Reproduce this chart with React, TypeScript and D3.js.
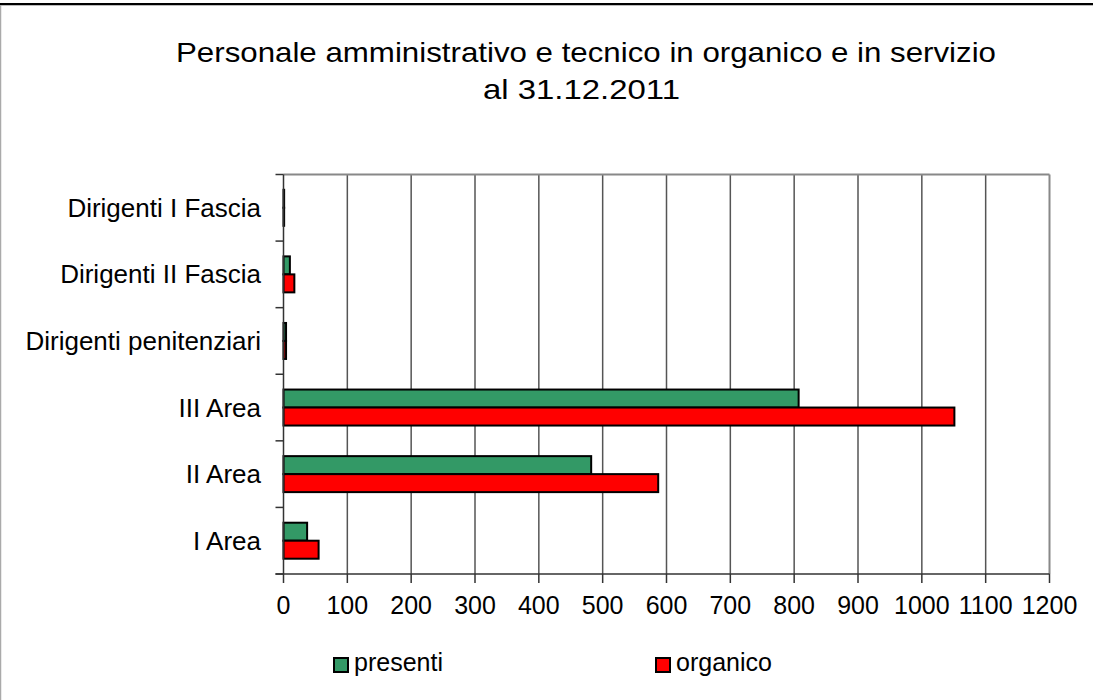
import React from "react";
import * as d3 from "d3";

const categories = [
  "Dirigenti I Fascia",
  "Dirigenti II Fascia",
  "Dirigenti penitenziari",
  "III Area",
  "II Area",
  "I Area",
];
const seriesNames = ["presenti", "organico"];
const presenti = [1, 10, 4, 807, 482, 37];
const organico = [1, 17, 4, 1051, 587, 55];
const seriesColors = ["#339966", "#FF0000"];
const xTicks = [0, 100, 200, 300, 400, 500, 600, 700, 800, 900, 1000, 1100, 1200];
const titleLines = [
  "Personale amministrativo e tecnico in organico e in servizio",
  "al 31.12.2011",
];

export default function App() {
  const W = 1093;
  const H = 700;
  const left = 283.5;
  const right = 1049.5;
  const top = 174.5;
  const bottom = 574;
  const x = d3.scaleLinear().domain([0, 1200]).range([left, right]);
  const y = d3.scaleBand().domain(categories).range([top, bottom]).padding(0);
  const sub = d3
    .scaleBand()
    .domain(seriesNames)
    .range([0, y.bandwidth()])
    .paddingInner(0)
    .paddingOuter(0.85);
  const values = [presenti, organico];
  const font = "'Liberation Sans', Arial, sans-serif";
  const boundaries = categories.map((c) => y(c)!).concat([bottom]);

  return (
    <svg
      width={W}
      height={H}
      style={{ position: "absolute", left: 0, top: 0, background: "#fff" }}
      fontFamily={font}
    >
      <rect x={0} y={0} width={W} height={H} fill="#fff" />
      {/* frame */}
      <line x1={0} x2={W} y1={4} y2={4} stroke="#000" strokeWidth={2} />
      <line x1={0} x2={W} y1={5.5} y2={5.5} stroke="#bbb" strokeWidth={1} />
      <line x1={0.5} x2={0.5} y1={5} y2={H} stroke="#aaa" strokeWidth={1.5} />

      {/* title */}
      <text
        x={176}
        y={62}
        fontSize={28}
        fill="#000"
        textLength={820}
        lengthAdjust="spacingAndGlyphs"
      >
        {titleLines[0]}
      </text>
      <text
        x={483}
        y={99}
        fontSize={28}
        fill="#000"
        textLength={197}
        lengthAdjust="spacingAndGlyphs"
      >
        {titleLines[1]}
      </text>

      {/* gridlines */}
      {xTicks.slice(1, -1).map((t) => (
        <line key={t} x1={x(t)} x2={x(t)} y1={top} y2={bottom} stroke="#555" strokeWidth={1.5} />
      ))}
      {/* plot border top and right */}
      <line x1={left} x2={right} y1={top} y2={top} stroke="#888" strokeWidth={2} />
      <line x1={right} x2={right} y1={top} y2={bottom} stroke="#888" strokeWidth={2} />

      {/* bars */}
      {categories.map((c, i) =>
        seriesNames.map((s, j) => (
          <rect
            key={c + s}
            x={x(0)}
            y={y(c)! + sub(s)!}
            width={Math.max(0, x(values[j][i]) - x(0))}
            height={sub.bandwidth()}
            fill={seriesColors[j]}
            stroke="#000"
            strokeWidth={2}
          />
        ))
      )}

      {/* y axis */}
      <line x1={left} x2={left} y1={top} y2={bottom} stroke="#333" strokeWidth={1.5} />
      {boundaries.map((b, i) => (
        <line key={i} x1={left - 8} x2={left} y1={b} y2={b} stroke="#333" strokeWidth={1.5} />
      ))}
      {categories.map((c) => (
        <text
          key={c}
          x={261}
          y={y(c)! + y.bandwidth() / 2}
          dy="0.35em"
          fontSize={26}
          textAnchor="end"
          fill="#000"
        >
          {c}
        </text>
      ))}

      {/* x axis */}
      <line x1={left - 8} x2={right} y1={bottom} y2={bottom} stroke="#333" strokeWidth={1.5} />
      {xTicks.map((t) => (
        <g key={t}>
          <line x1={x(t)} x2={x(t)} y1={bottom} y2={bottom + 9} stroke="#333" strokeWidth={1.5} />
          <text x={x(t)} y={614} fontSize={25} textAnchor="middle" fill="#000">
            {t}
          </text>
        </g>
      ))}

      {/* legend */}
      {seriesNames.map((s, j) => {
        const lx = j === 0 ? 334 : 656;
        return (
          <g key={s}>
            <rect x={lx} y={658} width={14} height={14} fill={seriesColors[j]} stroke="#000" strokeWidth={2} />
            <text x={lx + 20} y={671} fontSize={25} fill="#000">
              {s}
            </text>
          </g>
        );
      })}
    </svg>
  );
}
